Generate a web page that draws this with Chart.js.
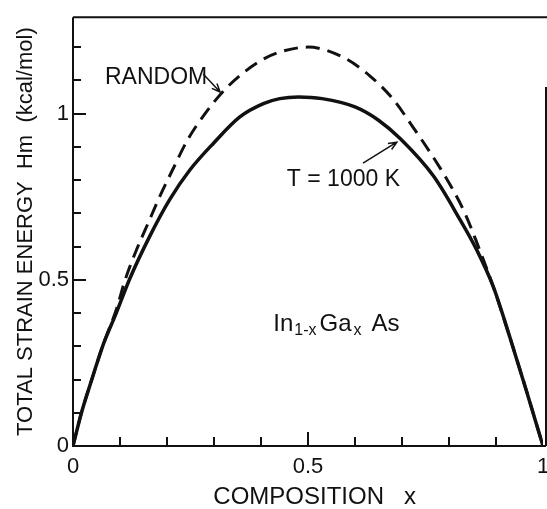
<!DOCTYPE html>
<html>
<head>
<meta charset="utf-8">
<script src="https://cdn.jsdelivr.net/npm/chart.js@4.4.0/dist/chart.umd.min.js"></script>
<style>
  html, body { margin: 0; padding: 0; background: #fff; }
</style>
</head>
<body>
<canvas id="strainChart" width="547" height="509"></canvas>
<script>
// T = 1000 K curve (solid)
const compT1000 = [0, 0.018, 0.040, 0.063, 0.092, 0.121, 0.164, 0.206, 0.249, 0.299, 0.355, 0.405, 0.44, 0.48, 0.53, 0.60, 0.65, 0.696, 0.767, 0.823, 0.859, 0.894, 0.93, 0.965, 1.0];
const energyT1000 = [0, 0.1, 0.2, 0.3, 0.4, 0.504, 0.633, 0.742, 0.831, 0.911, 0.99, 1.03, 1.045, 1.05, 1.045, 1.02, 0.98, 0.925, 0.812, 0.682, 0.59, 0.48, 0.325, 0.165, 0];

// RANDOM curve (dashed)
const compRandom = [0, 0.018, 0.040, 0.063, 0.092, 0.111, 0.133, 0.160, 0.185, 0.213, 0.243, 0.281, 0.321, 0.36, 0.40, 0.44, 0.5, 0.574, 0.632, 0.68, 0.724, 0.77, 0.806, 0.834, 0.857, 0.894, 0.93, 0.965, 1.0];
const energyRandom = [0, 0.1, 0.2, 0.3, 0.41, 0.5, 0.583, 0.671, 0.752, 0.834, 0.919, 1.0, 1.069, 1.12, 1.16, 1.185, 1.2, 1.17, 1.113, 1.045, 0.958, 0.861, 0.777, 0.70, 0.62, 0.48, 0.325, 0.165, 0];

const majorTicks = [0, 0.5, 1];
const xMinorTicks = [0.1, 0.2, 0.3, 0.4, 0.5, 0.6, 0.7, 0.8, 0.9];
const yMinorTicks = [0.1, 0.2, 0.3, 0.4, 0.5, 0.6, 0.7, 0.8, 0.9, 1, 1.1, 1.2];

const FONT = "'Liberation Sans', Arial, sans-serif";
const INK = '#111';

const toPoints = (xs, ys) => xs.map((x, i) => ({ x, y: ys[i] }));
const majorOf = v => majorTicks.find(m => Math.abs(m - v) < 1e-6);

function arrow(ctx, x1, y1, x2, y2) {
    const a = Math.atan2(y2 - y1, x2 - x1), h = 9;
    ctx.beginPath();
    ctx.moveTo(x1, y1); ctx.lineTo(x2, y2);
    ctx.moveTo(x2 - h * Math.cos(a - 0.4), y2 - h * Math.sin(a - 0.4));
    ctx.lineTo(x2, y2);
    ctx.lineTo(x2 - h * Math.cos(a + 0.4), y2 - h * Math.sin(a + 0.4));
    ctx.stroke();
}

// frame, inward ticks and the in-plot labels
const decor = {
    id: 'decor',
    afterDraw(chart) {
        const { ctx, chartArea: a, scales } = chart;
        const sx = scales.x, sy = scales.y;
        ctx.save();
        ctx.strokeStyle = INK;
        ctx.fillStyle = INK;
        ctx.lineWidth = 2;
        ctx.beginPath();
        ctx.moveTo(a.left, a.top); ctx.lineTo(a.left, a.bottom); ctx.lineTo(a.right + 3, a.bottom);
        ctx.moveTo(a.left, a.top); ctx.lineTo(chart.width, a.top);
        ctx.moveTo(a.right + 3, sy.getPixelForValue(1.08)); ctx.lineTo(a.right + 3, a.bottom);
        ctx.stroke();

        // inward ticks
        for (const v of yMinorTicks) {
            const py = Math.round(sy.getPixelForValue(v));
            const len = majorOf(v) !== undefined ? 13 : 8;
            ctx.fillRect(a.left, py - 1, len, 2);
        }
        for (const v of xMinorTicks) {
            const px = Math.round(sx.getPixelForValue(v));
            const len = majorOf(v) !== undefined ? 14 : 9;
            ctx.fillRect(px - 1, a.bottom - len, 2, len);
        }

        // labels
        ctx.textBaseline = 'alphabetic';
        ctx.font = `23px ${FONT}`;
        ctx.fillText('RANDOM', sx.getPixelForValue(0.068), sy.getPixelForValue(1.089));
        ctx.fillText('T = 1000 K', sx.getPixelForValue(0.455), sy.getPixelForValue(0.783));
        ctx.lineWidth = 1.5;
        arrow(ctx, sx.getPixelForValue(0.277), sy.getPixelForValue(1.119), sx.getPixelForValue(0.313), sy.getPixelForValue(1.065));
        arrow(ctx, sx.getPixelForValue(0.617), sy.getPixelForValue(0.851), sx.getPixelForValue(0.689), sy.getPixelForValue(0.914));

        let px = sx.getPixelForValue(0.426);
        const base = sy.getPixelForValue(0.345);
        const part = (txt, size, dy, gap) => {
            ctx.font = `${size}px ${FONT}`;
            ctx.fillText(txt, px, base + dy);
            px += ctx.measureText(txt).width + gap;
        };
        part('In', 24, 0, 1);
        part('1-x', 16, 4, 3);
        part('Ga', 24, 0, 2);
        part('x', 16, 4, 10);
        part('As', 24, 0, 0);
        ctx.restore();
    }
};

const ctx = document.getElementById('strainChart').getContext('2d');
new Chart(ctx, {
    type: 'line',
    data: {
        datasets: [
            {
                label: 'T = 1000 K',
                data: toPoints(compT1000, energyT1000),
                borderColor: INK, borderWidth: 3.5,
                pointRadius: 0, fill: false,
                cubicInterpolationMode: 'monotone'
            },
            {
                label: 'RANDOM',
                data: toPoints(compRandom, energyRandom),
                borderColor: INK, borderWidth: 3,
                borderDash: [14, 8],
                pointRadius: 0, fill: false,
                cubicInterpolationMode: 'monotone'
            }
        ]
    },
    options: {
        responsive: false,
        animation: false,
        devicePixelRatio: 1,
        layout: { padding: { top: 12, right: 4, left: 0, bottom: 0 } },
        plugins: { legend: { display: false }, tooltip: { enabled: false } },
        scales: {
            x: {
                type: 'linear', min: 0, max: 1,
                grid: { display: false, drawTicks: false },
                border: { display: false },
                afterBuildTicks(s) { s.ticks = majorTicks.map(v => ({ value: v })); },
                ticks: {
                    autoSkip: false, maxRotation: 0, padding: 8,
                    color: INK, font: { family: FONT, size: 22 },
                    callback: v => String(v)
                },
                title: {
                    display: true, text: '  COMPOSITION   x', color: INK,
                    font: { family: FONT, size: 24, lineHeight: 1 },
                    padding: { top: 0, bottom: 0 }
                },
                afterFit(s) { s.height = 63; s.paddingLeft = 0; s.paddingRight = 0; }
            },
            y: {
                min: 0, max: 1.29,
                grid: { display: false, drawTicks: false },
                border: { display: false },
                afterBuildTicks(s) { s.ticks = majorTicks.map(v => ({ value: v })); },
                ticks: {
                    autoSkip: false, padding: 4,
                    color: INK, font: { family: FONT, size: 22 },
                    callback: v => String(v)
                },
                title: {
                    display: true, text: 'TOTAL STRAIN ENERGY  Hm  (kcal/mol)', color: INK,
                    font: { family: FONT, size: 22, lineHeight: 1 },
                    padding: { top: 15, bottom: 0 }
                },
                afterFit(s) { s.width = 73; }
            }
        }
    },
    plugins: [decor]
});
</script>
</body>
</html>
